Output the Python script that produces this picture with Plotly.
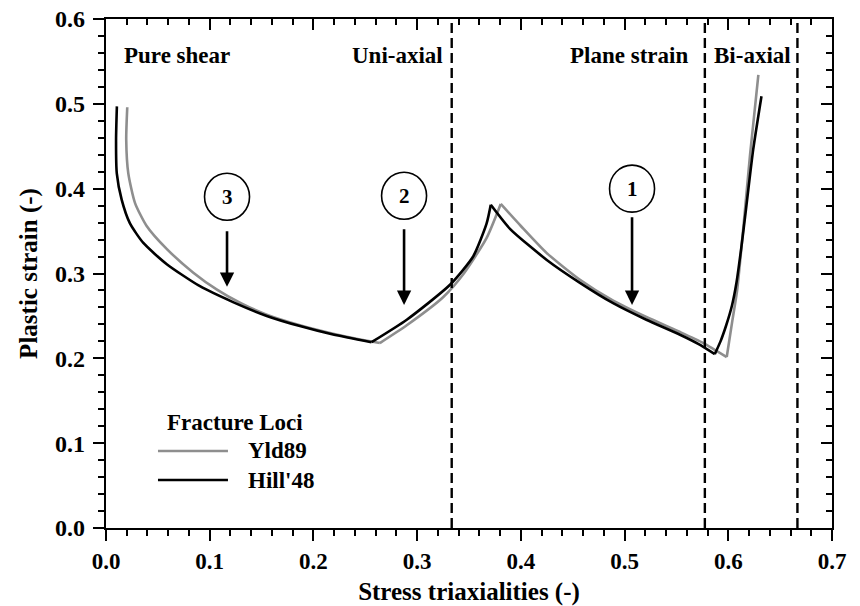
import plotly.graph_objects as go

# Fracture loci, stress triaxiality vs. plastic strain.
# Each locus is split into four branches (pure shear, uni-axial,
# plane strain, bi-axial); branches share their end points.
hill_x = [
    [0.0105, 0.0097, 0.0104, 0.0151, 0.0231, 0.036, 0.0586, 0.0906, 0.123, 0.155, 0.187, 0.219, 0.256],
    [0.256, 0.29, 0.3317, 0.354, 0.367, 0.371],
    [0.371, 0.390, 0.425, 0.457, 0.489, 0.521, 0.5535, 0.571, 0.587],
    [0.587, 0.5925, 0.598, 0.6035, 0.608, 0.6125, 0.617, 0.624, 0.632],
]
hill_y = [
    [0.497, 0.458, 0.418, 0.387, 0.359, 0.336, 0.311, 0.285, 0.266, 0.250, 0.238, 0.228, 0.219],
    [0.219, 0.2455, 0.2867, 0.320, 0.359, 0.381],
    [0.381, 0.352, 0.316, 0.289, 0.265, 0.2455, 0.2278, 0.2170, 0.2050],
    [0.2050, 0.2200, 0.2390, 0.2620, 0.2900, 0.3300, 0.3750, 0.446, 0.509],
]
yld_x = [
    [0.0205, 0.0195, 0.0215, 0.028, 0.0392, 0.0585, 0.0842, 0.107, 0.130, 0.155, 0.187, 0.219, 0.245, 0.264],
    [0.264, 0.29, 0.325, 0.345, 0.367, 0.3806],
    [0.3806, 0.40, 0.425, 0.457, 0.489, 0.521, 0.5535, 0.576, 0.5985],
    [0.5985, 0.604, 0.6085, 0.6146, 0.621, 0.629],
]
yld_y = [
    [0.496, 0.458, 0.418, 0.383, 0.356, 0.329, 0.301, 0.281, 0.265, 0.2515, 0.239, 0.229, 0.2222, 0.218],
    [0.218, 0.239, 0.272, 0.300, 0.342, 0.382],
    [0.382, 0.356, 0.324, 0.2926, 0.268, 0.2487, 0.231, 0.2180, 0.2015],
    [0.2015, 0.245, 0.280, 0.355, 0.440, 0.534],
]

# Loading-state boundaries: eta = 1/3, 1/sqrt(3), 2/3
region_bounds = [1 / 3, 0.5774, 2 / 3]
region_names = ["Pure shear", "Uni-axial", "Plane strain", "Bi-axial"]
region_label_x = [0.0685, 0.2811, 0.5043, 0.623]
region_label_y = 0.557

# Numbered markers: circle centre and arrow (tail -> tip)
marker_ids = ["1", "2", "3"]
marker_cx = [0.5072, 0.2874, 0.1167]
marker_cy = [0.400, 0.3917, 0.3905]
arrow_tail_y = [0.368, 0.354, 0.3516]
arrow_tip_y = [0.263, 0.263, 0.2844]

x_range = [0, 0.7]
y_range = [0, 0.6]

BLACK = "#000000"
GREY = "#8e8e8e"
FONT = "'Liberation Serif', 'Times New Roman', Times, serif"


def join(segs):
    out = []
    for i, s in enumerate(segs):
        if i:
            out.append(None)
        out.extend(s)
    return out


fig = go.Figure()
fig.add_trace(go.Scatter(
    x=join(yld_x), y=join(yld_y), mode="lines", name="Yld89",
    line=dict(color=GREY, width=2.6, shape="spline", smoothing=0.6),
    connectgaps=False, showlegend=False))
fig.add_trace(go.Scatter(
    x=join(hill_x), y=join(hill_y), mode="lines", name="Hill'48",
    line=dict(color=BLACK, width=2.6, shape="spline", smoothing=0.6),
    connectgaps=False, showlegend=False))
# carrier for the mirrored top/right axes
fig.add_trace(go.Scatter(x=[None], y=[None], xaxis="x2", yaxis="y2",
                         showlegend=False, hoverinfo="skip"))

for xb in region_bounds:
    fig.add_shape(type="line", xref="x", yref="y", x0=xb, x1=xb,
                  y0=y_range[0], y1=y_range[1],
                  line=dict(color=BLACK, width=2.4, dash="10px,5px"))

for name, lx in zip(region_names, region_label_x):
    fig.add_annotation(x=lx, y=region_label_y, xref="x", yref="y", text=name,
                       showarrow=False, xanchor="center", yanchor="middle",
                       font=dict(family=FONT, size=23, color=BLACK, weight="bold"))

for mid, cx, cy, ty, hy in zip(marker_ids, marker_cx, marker_cy, arrow_tail_y, arrow_tip_y):
    fig.add_shape(type="circle", xref="x", yref="y",
                  xsizemode="pixel", ysizemode="pixel",
                  xanchor=cx, yanchor=cy, x0=-22.5, x1=22.5, y0=-23.5, y1=23.5,
                  line=dict(color=BLACK, width=1.6), fillcolor="rgba(0,0,0,0)")
    fig.add_annotation(x=cx, y=cy, xref="x", yref="y", text=mid, showarrow=False,
                       font=dict(family=FONT, size=21, color=BLACK, weight="bold"))
    fig.add_annotation(x=cx, y=hy, ax=cx, ay=ty, xref="x", yref="y",
                       axref="x", ayref="y", text="", showarrow=True,
                       arrowhead=2, arrowsize=1.1, arrowwidth=2.6, arrowcolor=BLACK,
                       standoff=0)

# legend block
leg_font = dict(family=FONT, size=23, color=BLACK, weight="bold")
fig.add_annotation(x=0.0813, y=0.2063, xref="paper", yref="paper", text="Fracture Loci",
                   showarrow=False, xanchor="left", yanchor="middle", font=leg_font)
for label, color, ly in [("Yld89", GREY, 0.1513), ("Hill'48", BLACK, 0.0943)]:
    fig.add_shape(type="line", xref="paper", yref="paper", x0=0.0716, x1=0.168,
                  y0=ly, y1=ly, line=dict(color=color, width=2.6))
    fig.add_annotation(x=0.1928, y=ly, xref="paper", yref="paper", text=label,
                       showarrow=False, xanchor="left", yanchor="middle", font=leg_font)

tick_font = dict(family=FONT, size=24, color=BLACK, weight="bold")
xtick_font = dict(family=FONT, size=23, color=BLACK, weight="bold")
title_font = dict(family=FONT, size=25, color=BLACK, weight="bold")
common = dict(showgrid=False, zeroline=False, showline=True, linecolor=BLACK,
              linewidth=2.4, tickcolor=BLACK, tickwidth=2, ticklen=11,
              automargin=False)

fig.update_layout(
    width=860, height=606,
    margin=dict(l=106, r=28, t=19, b=78, autoexpand=False),
    paper_bgcolor="white", plot_bgcolor="white",
    font=dict(family=FONT, color=BLACK),
    xaxis=dict(range=x_range, dtick=0.1, tickformat=".1f", ticks="outside",
               minor=dict(dtick=0.02, ticks="outside", ticklen=6, tickwidth=2, tickcolor=BLACK),
               tickfont=xtick_font,
               title=dict(text="Stress triaxialities (-)", font=title_font, standoff=14),
               **common),
    yaxis=dict(range=y_range, dtick=0.1, tickformat=".1f", ticks="outside",
               minor=dict(dtick=0.02, ticks="outside", ticklen=6, tickwidth=2, tickcolor=BLACK),
               tickfont=tick_font, ticklabelstandoff=3,
               title=dict(text="Plastic strain (-)", font=title_font, standoff=10),
               **common),
    xaxis2=dict(range=x_range, dtick=0.1, overlaying="x", side="top", anchor="y",
                ticks="inside", showticklabels=False,
                minor=dict(dtick=0.02, ticks="inside", ticklen=6, tickwidth=2, tickcolor=BLACK),
                **common),
    yaxis2=dict(range=y_range, dtick=0.1, overlaying="y", side="right", anchor="x",
                ticks="inside", showticklabels=False,
                minor=dict(dtick=0.02, ticks="inside", ticklen=6, tickwidth=2, tickcolor=BLACK),
                **common),
)

fig.write_html("out.html")
